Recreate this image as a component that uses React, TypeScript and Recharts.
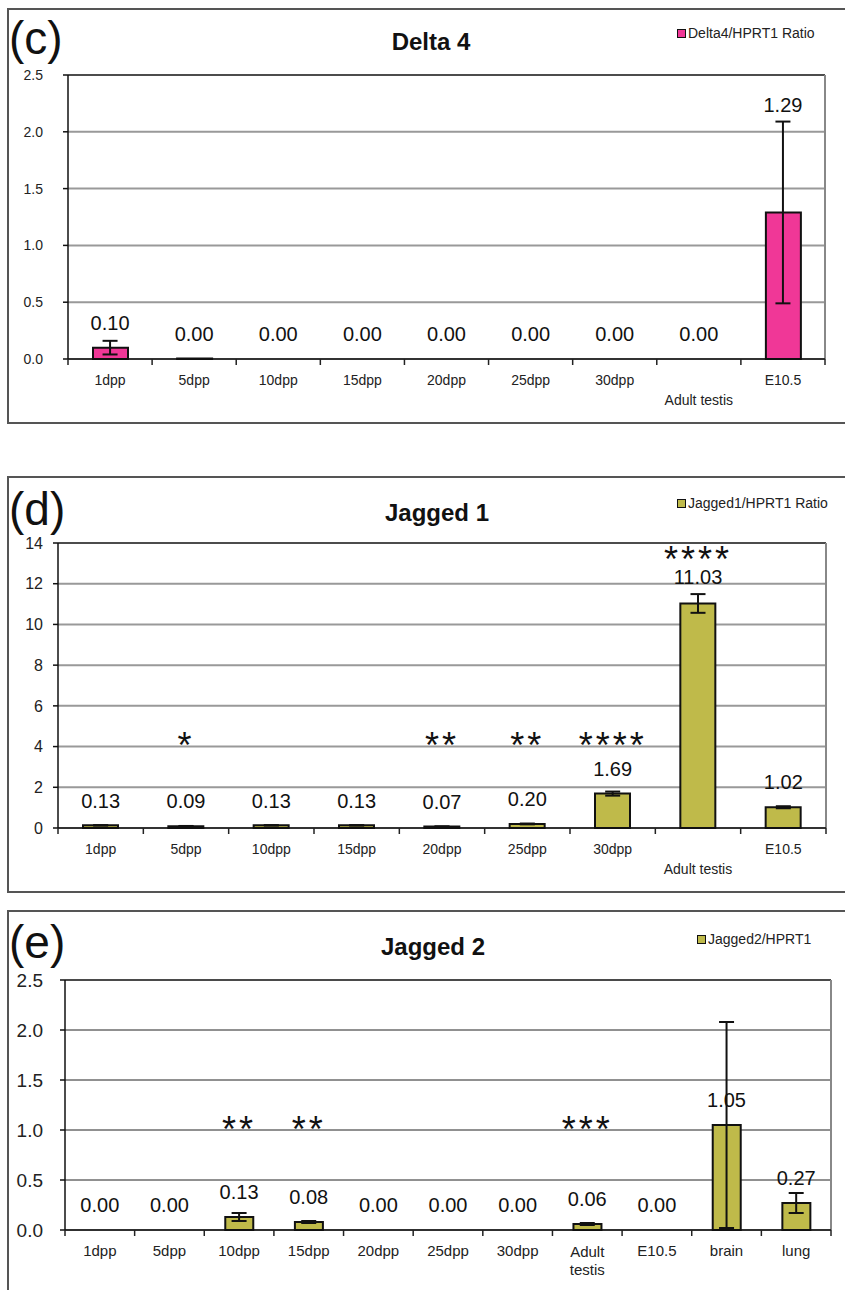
import React from 'react';
import {
  ComposedChart,
  Bar,
  Line,
  XAxis,
  YAxis,
  CartesianGrid,
  ErrorBar,
  LabelList,
} from 'recharts';

// ---- data ----
const stageNames = ['1dpp', '5dpp', '10dpp', '15dpp', '20dpp', '25dpp', '30dpp', 'Adult testis', 'E10.5'];

const delta4Values = [0.1, 0.004, 0, 0, 0, 0, 0, 0, 1.29];
const delta4Errors = [0.06, 0, 0, 0, 0, 0, 0, 0, 0.8];
const delta4Ticks = [0, 0.5, 1, 1.5, 2, 2.5];

const jagged1Values = [0.13, 0.09, 0.13, 0.13, 0.07, 0.2, 1.69, 11.03, 1.02];
const jagged1Errors = [0.01, 0.01, 0.01, 0.01, 0.01, 0.02, 0.1, 0.46, 0.05];
const jagged1Stars = ['', '*', '', '', '**', '**', '****', '****', ''];
const jagged1StarLevel = 4.45;
const jagged1Ticks = [0, 2, 4, 6, 8, 10, 12, 14];

const jagged2Names = ['1dpp', '5dpp', '10dpp', '15dpp', '20dpp', '25dpp', '30dpp', 'Adult testis', 'E10.5', 'brain', 'lung'];
const jagged2Values = [0, 0, 0.13, 0.08, 0, 0, 0, 0.06, 0, 1.05, 0.27];
const jagged2Errors = [null, null, 0.04, 0.01, null, null, null, 0.01, null, 1.03, 0.1];
const jagged2Stars = ['', '', '**', '**', '', '', '', '***', '', '', ''];
const jagged2StarLevel = 1.09;
const jagged2Ticks = [0, 0.5, 1, 1.5, 2, 2.5];

const FONT = '"Liberation Sans", Arial, Helvetica, sans-serif';
const PINK = '#f03797';
const OLIVE = '#bfba4a';
const X_AXIS_H = 50;
const Y_AXIS_W = 40;

type Row = { name: string; value: number; err: number | null; stars: string };

const geom = (p: any) => (p.viewBox && p.viewBox.x !== undefined ? p.viewBox : p);

// value label ~25px above the bar top; in c/d it is lifted over the error bar when that is taller
const valueLabel = (rows: Row[], aboveError: boolean, ppu: number) => (props: any) => {
  const g = geom(props);
  const d = rows[props.index];
  if (!d || g.x == null || g.y == null || isNaN(g.y)) return null;
  let cy = g.y - 25;
  if (aboveError && d.err) cy = Math.min(cy, g.y - d.err * ppu - 17);
  return (
    <text x={g.x + (g.width || 0) / 2} y={cy} dy="0.36em" textAnchor="middle" fontSize={20} fill="#111" fontFamily={FONT}>
      {d.value.toFixed(2)}
    </text>
  );
};

const starLabel = (rows: Row[], level: number) => (props: any) => {
  const g = geom(props);
  const d = rows[props.index];
  if (!d || !d.stars || g.y == null || isNaN(g.y)) return null;
  let cy = g.y;
  if (d.value + (d.err || 0) > level) cy -= 43;
  return (
    <text x={g.x + (g.width || 0) / 2} y={cy} dy={21} textAnchor="middle" fontSize={36} letterSpacing={3} fill="#111" fontFamily={FONT}>
      {d.stars}
    </text>
  );
};

// category labels + Excel style tick marks on the category boundaries
const CategoryTick = (props: any) => {
  const { x, y, payload, index, mode, fontSize, bandHalf } = props;
  const half = payload && payload.offset ? payload.offset : bandHalf;
  const label = String(payload.value);
  const twoWords = label.includes(' ');
  let text;
  if (twoWords && mode === 'stagger') {
    text = (
      <text x={x} y={y + 41} dy="0.36em" textAnchor="middle" fontSize={fontSize} fill="#222">
        {label}
      </text>
    );
  } else if (twoWords && mode === 'lines') {
    const parts = label.split(' ');
    text = (
      <text x={x} textAnchor="middle" fontSize={fontSize} fill="#222">
        <tspan x={x} y={y + 22} dy="0.36em">{parts[0]}</tspan>
        <tspan x={x} y={y + 40} dy="0.36em">{parts[1]}</tspan>
      </text>
    );
  } else {
    text = (
      <text x={x} y={y + 21} dy="0.36em" textAnchor="middle" fontSize={fontSize} fill="#222">
        {label}
      </text>
    );
  }
  return (
    <g>
      {index === 0 ? <line x1={x - half} y1={y} x2={x - half} y2={y + 6} stroke="#222" strokeWidth={1.5} /> : null}
      <line x1={x + half} y1={y} x2={x + half} y2={y + 6} stroke="#222" strokeWidth={1.5} />
      {text}
    </g>
  );
};

interface PanelProps {
  top: number;
  height: number;
  margin: { top: number; right: number; bottom: number; left: number };
  rows: Row[];
  ticks: number[];
  digits: number;
  color: string;
  barSize: number;
  gridColor: string;
  gridWidth: number;
  yFont: number;
  yTickMargin: number;
  xFont: number;
  xMode: 'stagger' | 'lines';
  aboveError: boolean;
  starLevel?: number;
}

const Panel: React.FC<PanelProps> = (p) => {
  const max = p.ticks[p.ticks.length - 1];
  const plotH = p.height - p.margin.top - p.margin.bottom - X_AXIS_H;
  const plotW = 845 - p.margin.left - p.margin.right - Y_AXIS_W;
  const ppu = plotH / max;
  const bandHalf = plotW / p.rows.length / 2;
  return (
    <div style={{ position: 'absolute', left: 0, top: p.top }}>
      <ComposedChart width={845} height={p.height} data={p.rows} margin={p.margin} style={{ fontFamily: FONT }}>
        <CartesianGrid vertical={false} stroke={p.gridColor} strokeWidth={p.gridWidth} />
        <CartesianGrid
          vertical={false}
          stroke="#333"
          strokeWidth={1.5}
          horizontalCoordinatesGenerator={({ offset }: any) => [offset.top]}
        />
        <CartesianGrid
          horizontal={false}
          stroke="#888"
          strokeWidth={2}
          verticalCoordinatesGenerator={({ offset }: any) => [offset.left + offset.width]}
        />
        <XAxis
          dataKey="name"
          interval={0}
          height={X_AXIS_H}
          tickSize={0}
          tickMargin={0}
          tickLine={false}
          axisLine={{ stroke: '#111', strokeWidth: 1.5 }}
          tick={<CategoryTick mode={p.xMode} fontSize={p.xFont} bandHalf={bandHalf} />}
        />
        <YAxis
          width={Y_AXIS_W}
          domain={[0, max]}
          ticks={p.ticks}
          interval={0}
          tickSize={5}
          tickMargin={p.yTickMargin}
          tickFormatter={(v: number) => v.toFixed(p.digits)}
          tick={{ fontSize: p.yFont, fill: '#222' }}
          tickLine={{ stroke: '#111', strokeWidth: 1.5 }}
          axisLine={{ stroke: '#111', strokeWidth: 1.5 }}
        />
        <Bar dataKey="value" fill={p.color} stroke="#111" strokeWidth={2} barSize={p.barSize} isAnimationActive={false} />
        {/* invisible series carrying the error bars and value labels for every category, zeros included */}
        <Line dataKey="value" stroke="none" dot={false} activeDot={false} legendType="none" isAnimationActive={false}>
          <ErrorBar dataKey="err" width={7.5} stroke="#111" strokeWidth={2} direction="y" />
          <LabelList dataKey="value" content={valueLabel(p.rows, p.aboveError, ppu)} />
        </Line>
        {p.starLevel !== undefined && (
          <Line
            dataKey={(d: Row) => (d.stars ? Math.max(p.starLevel as number, d.value + (d.err || 0)) : null)}
            stroke="none"
            dot={false}
            activeDot={false}
            legendType="none"
            isAnimationActive={false}
          >
            <LabelList dataKey="stars" content={starLabel(p.rows, p.starLevel)} />
          </Line>
        )}
      </ComposedChart>
    </div>
  );
};

const Legend: React.FC<{ left: number; top: number; color: string; text: string }> = ({ left, top, color, text }) => (
  <div style={{ position: 'absolute', left, top, display: 'flex', alignItems: 'center', fontSize: 14, lineHeight: '14px', color: '#222' }}>
    <span style={{ width: 7, height: 7, border: '1.5px solid #111', background: color, marginRight: 2 }} />
    {text}
  </div>
);

const Heading: React.FC<{ letter: string; title: string; letterTop: number; titleTop: number; titleX: number }> = ({
  letter,
  title,
  letterTop,
  titleTop,
  titleX,
}) => (
  <>
    <div style={{ position: 'absolute', left: 9, top: letterTop, fontSize: 46, lineHeight: 1, color: '#111' }}>{letter}</div>
    <div
      style={{
        position: 'absolute',
        left: titleX - 200,
        width: 400,
        top: titleTop,
        textAlign: 'center',
        fontSize: 24,
        fontWeight: 'bold',
        lineHeight: 1,
        color: '#111',
      }}
    >
      {title}
    </div>
  </>
);

const makeRows = (names: string[], values: number[], errors: (number | null)[], stars?: string[]): Row[] =>
  names.map((name, i) => ({ name, value: values[i], err: errors[i], stars: stars ? stars[i] : '' }));

export default function App() {
  const delta4Rows = makeRows(stageNames, delta4Values, delta4Errors);
  const jagged1Rows = makeRows(stageNames, jagged1Values, jagged1Errors, jagged1Stars);
  const jagged2Rows = makeRows(jagged2Names, jagged2Values, jagged2Errors, jagged2Stars);
  const box = { position: 'absolute' as const, left: 7, width: 860, border: '2px solid #555', boxSizing: 'border-box' as const };

  return (
    <div style={{ position: 'relative', width: 845, height: 1290, overflow: 'hidden', background: '#fff', fontFamily: FONT }}>
      <style>{'body{margin:0}'}</style>
      <div style={{ ...box, top: 8, height: 416 }} />
      <div style={{ ...box, top: 476, height: 417 }} />
      <div style={{ ...box, top: 910, height: 420 }} />

      <Panel
        top={0}
        height={430}
        margin={{ top: 75, right: 20, bottom: 21, left: 28 }}
        rows={delta4Rows}
        ticks={delta4Ticks}
        digits={1}
        color={PINK}
        barSize={35}
        gridColor="#999"
        gridWidth={2}
        yFont={14}
        yTickMargin={20}
        xFont={14}
        xMode="stagger"
        aboveError
      />
      <Panel
        top={470}
        height={430}
        margin={{ top: 73, right: 19, bottom: 22, left: 18 }}
        rows={jagged1Rows}
        ticks={jagged1Ticks}
        digits={0}
        color={OLIVE}
        barSize={35}
        gridColor="#999"
        gridWidth={2}
        yFont={16}
        yTickMargin={10}
        xFont={14}
        xMode="stagger"
        aboveError
        starLevel={jagged1StarLevel}
      />
      <Panel
        top={900}
        height={390}
        margin={{ top: 80, right: 14, bottom: 10, left: 25 }}
        rows={jagged2Rows}
        ticks={jagged2Ticks}
        digits={1}
        color={OLIVE}
        barSize={28}
        gridColor="#222"
        gridWidth={1}
        yFont={19}
        yTickMargin={17}
        xFont={15}
        xMode="lines"
        aboveError={false}
        starLevel={jagged2StarLevel}
      />

      <Heading letter="(c)" title="Delta 4" letterTop={15} titleTop={30} titleX={431} />
      <Heading letter="(d)" title="Jagged 1" letterTop={486} titleTop={501} titleX={437} />
      <Heading letter="(e)" title="Jagged 2" letterTop={919} titleTop={935} titleX={433} />

      <Legend left={677} top={26} color={PINK} text="Delta4/HPRT1 Ratio" />
      <Legend left={677} top={496} color={OLIVE} text="Jagged1/HPRT1 Ratio" />
      <Legend left={697} top={932} color={OLIVE} text="Jagged2/HPRT1" />
    </div>
  );
}
